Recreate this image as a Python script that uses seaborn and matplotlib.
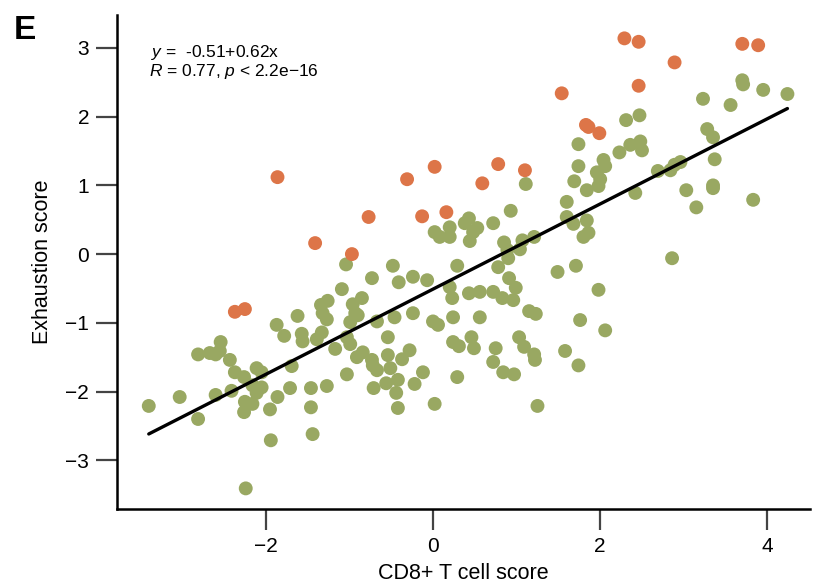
import numpy as np
import pandas as pd
import matplotlib
matplotlib.use("Agg")
import matplotlib.pyplot as plt
import seaborn as sns

# CD8+ T cell score / exhaustion score per sample
high_x = [-2.37, -2.25, -1.86, -1.41, -0.97, -0.77, -0.31, 0.02, -0.13, 0.16,
          0.59, 0.78, 1.10, 1.54, 1.83, 1.86, 1.99, 2.29, 2.46, 2.89,
          2.46, 3.70, 3.89]
high_y = [-0.84, -0.80, 1.12, 0.16, 0.00, 0.54, 1.09, 1.27, 0.55, 0.61,
          1.03, 1.31, 1.22, 2.34, 1.88, 1.85, 1.76, 3.14, 3.09, 2.79,
          2.45, 3.06, 3.04]

base_x = [
    # low range
    -1.87, -1.78, -2.54, -2.81, -2.67, -2.60, -2.55, -2.43, -2.37, -2.26,
    -2.11, -2.05, -2.16, -2.05, -2.11, -2.41, -2.60, -3.03, -3.40, -2.25,
    -2.16, -2.26, -1.86, -1.95, -2.81, -1.94, -2.24,
    # middle range
    0.02, 0.08, -1.04, -0.48, -0.73, -0.41, -0.24, -0.07, -1.09, -0.85,
    -1.26, -1.34, -0.96, -1.32, -1.27, -0.93, -0.90, -0.99, -1.62, -0.67,
    -0.46, -0.24, 0.00, 0.06, -1.57, -1.56, -1.33, -1.39, -1.03, -0.99,
    -1.17, -0.54, -0.84, -0.91, -0.73, -0.72, -0.67, -0.54, -0.51, -0.28,
    -0.37, -1.69, -1.03, -0.12, -1.71, -1.46, -1.27, -0.71, -0.56, -0.42,
    -0.22, -0.44, -1.46, -0.42, 0.02, -1.44,
    # upper range
    1.11, 1.74, 1.74, 2.04, 2.06, 1.96, 2.00, 1.98, 1.69, 1.84,
    1.60, 0.93, 0.72, 0.43, 0.38, 0.53, 0.48, 0.20, 0.20, 0.44,
    0.85, 1.07, 1.21, 1.04, 0.89, 0.90, 1.60, 1.68, 1.84, 1.86,
    1.80, 0.29, 0.78, 1.49, 1.71, 0.91, 0.99, 0.20, 0.23, 0.43,
    0.56, 0.72, 0.83, 0.96, 1.98, 0.24, 0.56, 1.15, 1.23, 1.76,
    2.06, 0.24, 0.31, 0.46, 0.49, 1.03, 1.09, 0.75, 0.72, 1.21,
    1.22, 1.58, 1.74, 0.84, 0.97, 0.29, 1.25,
    # top range
    3.70, 3.71, 3.95, 4.24, 3.23, 3.56, 2.31, 2.47, 3.28, 3.35,
    2.48, 2.36, 2.50, 2.23, 2.69, 2.84, 2.89, 2.96, 3.37, 3.35,
    3.35, 3.03, 3.15, 2.42, 3.83, 2.86,
]
base_y = [
    -1.03, -1.19, -1.28, -1.46, -1.44, -1.46, -1.41, -1.54, -1.72, -1.79,
    -1.66, -1.72, -1.91, -1.94, -2.02, -1.99, -2.05, -2.08, -2.21, -2.15,
    -2.18, -2.30, -2.08, -2.26, -2.40, -2.71, -3.41,
    0.32, 0.25, -0.15, -0.17, -0.35, -0.41, -0.33, -0.38, -0.51, -0.64,
    -0.68, -0.74, -0.73, -0.86, -0.95, -0.86, -0.89, -0.99, -0.90, -0.98,
    -0.92, -0.86, -0.98, -1.03, -1.16, -1.27, -1.14, -1.24, -1.21, -1.31,
    -1.38, -1.21, -1.43, -1.50, -1.54, -1.62, -1.69, -1.47, -1.66, -1.40,
    -1.53, -1.63, -1.75, -1.72, -1.95, -1.95, -1.92, -1.95, -1.88, -1.83,
    -1.89, -2.02, -2.23, -2.24, -2.18, -2.62,
    1.02, 1.60, 1.28, 1.37, 1.28, 1.19, 1.09, 0.99, 1.06, 0.93,
    0.76, 0.63, 0.45, 0.52, 0.45, 0.38, 0.32, 0.39, 0.25, 0.19,
    0.17, 0.20, 0.25, 0.07, 0.06, -0.06, 0.54, 0.44, 0.49, 0.31,
    0.25, -0.17, -0.19, -0.26, -0.17, -0.35, -0.49, -0.48, -0.64, -0.57,
    -0.55, -0.55, -0.64, -0.67, -0.52, -0.92, -0.92, -0.83, -0.87, -0.96,
    -1.11, -1.28, -1.34, -1.21, -1.37, -1.21, -1.35, -1.37, -1.57, -1.46,
    -1.54, -1.41, -1.62, -1.72, -1.75, -1.79, -2.21,
    2.53, 2.47, 2.39, 2.33, 2.26, 2.17, 1.95, 2.02, 1.82, 1.70,
    1.64, 1.59, 1.51, 1.48, 1.21, 1.22, 1.30, 1.34, 1.38, 1.00,
    0.96, 0.93, 0.68, 0.89, 0.79, -0.06,
]

# fitted line reported on the panel
intercept = -0.51
slope = 0.62

x_ticks = [-2, 0, 2, 4]
y_ticks = [-3, -2, -1, 0, 1, 2, 3]

green = "#99A862"
orange = "#DD7548"

df = pd.DataFrame({
    "cd8": base_x + high_x,
    "exhaustion": base_y + high_y,
    "group": ["base"] * len(base_x) + ["high"] * len(high_x),
})

sns.set_style("ticks")
plt.rcParams["font.family"] = ["Liberation Sans", "DejaVu Sans"]
plt.rcParams["mathtext.fontset"] = "custom"
plt.rcParams["mathtext.rm"] = "Liberation Sans"
plt.rcParams["mathtext.it"] = "Liberation Sans:italic"
plt.rcParams["text.color"] = "black"
plt.rcParams["axes.labelcolor"] = "black"

fig = plt.figure(figsize=(8.14, 5.84), dpi=100)
ax = fig.add_axes([117 / 814, 1 - 509 / 584, (810 - 117) / 814, (509 - 15) / 584])

sns.scatterplot(data=df, x="cd8", y="exhaustion", hue="group",
                palette={"base": green, "high": orange},
                s=100, linewidth=0, alpha=1, legend=False, ax=ax, zorder=2)

line_x = np.array([df["cd8"].min(), df["cd8"].max()])
line_df = pd.DataFrame({"x": line_x, "y": intercept + slope * line_x})
sns.lineplot(data=line_df, x="x", y="y", color="black", linewidth=2.4, ax=ax, zorder=3)

ax.set_xlim(-3.78, 4.51)
ax.set_ylim(-3.71, 3.48)
ax.set_xticks(x_ticks)
ax.set_yticks(y_ticks)
ax.set_xticklabels([f"{t}".replace("-", "\u2212") for t in x_ticks])
ax.set_yticklabels([f"{t}".replace("-", "\u2212") for t in y_ticks])
ax.tick_params(axis="both", length=15, width=1.6, color="#444444",
               labelsize=15, labelcolor="black", pad=5)
sns.despine(ax=ax)
for side in ("left", "bottom"):
    ax.spines[side].set_linewidth(1.8)
    ax.spines[side].set_color("black")

ax.set_xlabel("CD8+ T cell score", fontsize=15.5, labelpad=5)
ax.set_ylabel("Exhaustion score", fontsize=15.5, labelpad=9)

# regression equation and correlation, as two tight lines
fig.text(151 / 814, 1 - 57 / 584, r"$y$ =  -0.51+0.62x", fontsize=12.5,
         va="baseline", ha="left")
fig.text(149 / 814, 1 - 76 / 584, r"$R$ = 0.77, $p$ < 2.2e" + "\u221216",
         fontsize=12.5, va="baseline", ha="left")
fig.text(14 / 814, 1 - 39 / 584, "E", fontsize=24, fontweight="bold",
         va="baseline", ha="left")

fig.savefig("out.png", dpi=100)
